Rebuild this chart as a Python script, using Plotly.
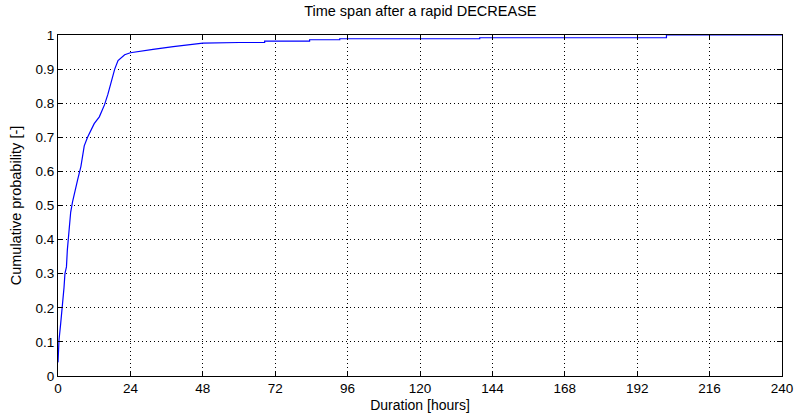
import plotly.graph_objects as go

# Empirical CDF of durations (hours) after a rapid decrease
hours = [0, 0.33, 0.9, 1.45, 2.0, 2.3, 2.8, 3.1, 3.7, 4.2, 4.8, 5.4, 6.5, 7.6, 8.1,
         8.7, 9.8, 10.9, 12.0, 13.7, 15.4, 16.5, 17.6, 18.8, 19.9, 20.5, 21.5, 22.1,
         24.0, 27.1, 31.5, 38.2, 43.7, 48.0, 60.0, 68.5, 68.5, 83.4, 83.4, 93.4, 93.4,
         139.8, 139.8, 201.7, 201.7, 240]
probs = [0.04, 0.105, 0.155, 0.20, 0.26, 0.30, 0.32, 0.37, 0.44, 0.48, 0.51, 0.535,
         0.575, 0.615, 0.645, 0.675, 0.70, 0.72, 0.74, 0.76, 0.795, 0.825, 0.86, 0.90,
         0.925, 0.93, 0.94, 0.942, 0.948, 0.953, 0.958, 0.966, 0.971, 0.976, 0.978,
         0.978, 0.982, 0.982, 0.986, 0.986, 0.989, 0.989, 0.992, 0.992, 1.0, 1.0]

x_ticks = [0, 24, 48, 72, 96, 120, 144, 168, 192, 216, 240]
y_ticks = [0, 0.1, 0.2, 0.3, 0.4, 0.5, 0.6, 0.7, 0.8, 0.9, 1]
y_tick_labels = ["0", "0.1", "0.2", "0.3", "0.4", "0.5", "0.6", "0.7", "0.8", "0.9", "1"]

title = "Time span after a rapid DECREASE"
x_label = "Duration [hours]"
y_label = "Cumulative probability [-]"

font = "Liberation Sans, Arial, sans-serif"

fig = go.Figure()
fig.add_trace(go.Scatter(x=hours, y=probs, mode="lines",
                         line=dict(color="#0000ff", width=1.2),
                         showlegend=False, hoverinfo="skip"))

axis_common = dict(
    showline=True, linecolor="black", linewidth=1, mirror="ticks",
    ticks="inside", ticklen=5, tickcolor="black", tickwidth=1,
    showgrid=True, gridcolor="black", gridwidth=1, griddash="1px,3px",
    zeroline=False, automargin=False,
    tickfont=dict(family=font, size=13.5, color="black"),
)

fig.update_layout(
    width=795, height=419,
    margin=dict(l=58, r=13, t=35, b=43, autoexpand=False),
    paper_bgcolor="white", plot_bgcolor="white",
    font=dict(family=font, size=13.5, color="black"),
    title=dict(text=title, x=0.5287, xanchor="center", y=0.985, yanchor="top",
               automargin=False,
               font=dict(family=font, size=14.5, color="black")),
    xaxis=dict(range=[0, 240], tickvals=x_ticks, ticktext=[str(t) for t in x_ticks],
               title=dict(text=x_label, standoff=4, font=dict(family=font, size=14)),
               **axis_common),
    yaxis=dict(range=[0, 1], tickvals=y_ticks, ticktext=y_tick_labels,
               title=dict(text=y_label, standoff=10, font=dict(family=font, size=14.5)),
               **axis_common),
)

fig.write_html("out.html")
